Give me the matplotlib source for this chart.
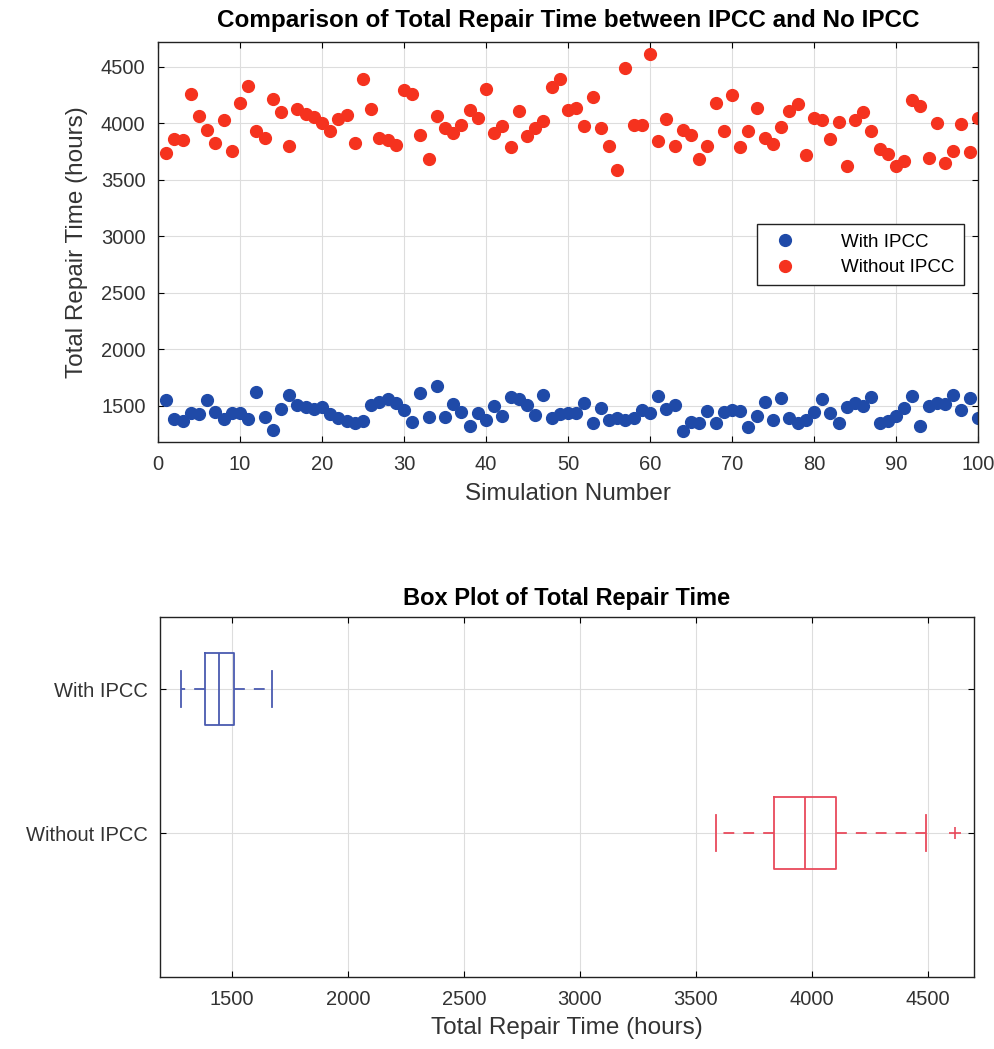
import numpy as np
import matplotlib
matplotlib.use("Agg")
import matplotlib.pyplot as plt

plt.rcParams['font.family'] = ['Liberation Sans', 'DejaVu Sans']

sim = np.arange(1, 101)
with_ipcc = [1553, 1382, 1370, 1435, 1429, 1553, 1450, 1382, 1441, 1435,
             1382, 1627, 1399, 1290, 1470, 1598, 1509, 1488, 1470, 1494,
             1429, 1390, 1370, 1346, 1370, 1509, 1538, 1559, 1524, 1464,
             1361, 1618, 1405, 1672, 1405, 1518, 1450, 1322, 1441, 1376,
             1500, 1411, 1583, 1559, 1509, 1420, 1592, 1390, 1429, 1435,
             1435, 1530, 1346, 1485, 1376, 1396, 1376, 1390, 1464, 1441,
             1589, 1470, 1509, 1282, 1361, 1352, 1459, 1346, 1450, 1464,
             1459, 1316, 1411, 1533, 1376, 1568, 1390, 1346, 1376, 1450,
             1559, 1441, 1346, 1494, 1524, 1500, 1577, 1352, 1370, 1411,
             1479, 1589, 1322, 1500, 1524, 1518, 1598, 1464, 1568, 1390]
without_ipcc = [3740, 3861, 3849, 4263, 4068, 3938, 3831, 4026, 3754, 4180,
                4328, 3932, 3867, 4216, 4097, 3796, 4127, 4080, 4056, 4003,
                3932, 4041, 4071, 3831, 4395, 4130, 3872, 3855, 3813, 4293,
                4263, 3899, 3686, 4062, 3961, 3914, 3982, 4115, 4047, 4308,
                3914, 3973, 3790, 4106, 3893, 3961, 4018, 4322, 4396, 4115,
                4140, 3973, 4234, 3958, 3804, 3588, 4494, 3982, 3988, 4618,
                3843, 4041, 3804, 3938, 3899, 3686, 3801, 4183, 3932, 4248,
                3790, 3932, 4139, 3869, 3816, 3967, 4109, 4169, 3724, 4050,
                4026, 3861, 4012, 3621, 4026, 4097, 3929, 3775, 3730, 3627,
                3665, 4210, 4154, 3692, 4003, 3647, 3760, 3997, 3751, 4050]
groups = ['With IPCC', 'Without IPCC']

fig = plt.figure(figsize=(9.95, 10.49), dpi=100)

# scatter of both series
ax1 = fig.add_axes([0.1588, 0.5786, 0.824, 0.3813])
ax1.plot(sim, with_ipcc, 'o', color='#1f4aa8', markersize=8.5, label=groups[0])
ax1.plot(sim, without_ipcc, 'o', color='#f5321e', markersize=8.5, label=groups[1])
ax1.set_xlim(0, 100)
ax1.set_ylim(1180, 4720)
ax1.set_xticks(np.arange(0, 101, 10))
ax1.set_yticks(np.arange(1500, 4501, 500))
ax1.set_title('Comparison of Total Repair Time between IPCC and No IPCC',
              fontsize=17.5, fontweight='bold', pad=11)
ax1.set_xlabel('Simulation Number', fontsize=17.5, color='#333333', labelpad=7)
ax1.set_ylabel('Total Repair Time (hours)', fontsize=17.5, color='#333333', labelpad=9)
leg = ax1.legend(loc='upper right', bbox_to_anchor=(0.983, 0.545), fontsize=13.5,
                 fancybox=False, edgecolor='#222222', framealpha=1,
                 handletextpad=2.0, borderpad=0.5, labelspacing=0.45,
                 borderaxespad=0)
leg.get_frame().set_linewidth(1.0)

# box plot
ax2 = fig.add_axes([0.1608, 0.0686, 0.818, 0.3432])
colors = ['#4a5bb0', '#e84a5c']
for pos, data, c in zip([1, 2], [with_ipcc, without_ipcc], colors):
    ax2.boxplot(data, positions=[pos], vert=False, widths=0.5, whis=1.5,
                capwidths=0.25, manage_ticks=False,
                boxprops=dict(color=c, linewidth=1.3),
                medianprops=dict(color=c, linewidth=1.3),
                whiskerprops=dict(color=c, linewidth=1.3, linestyle=(0, (6, 5))),
                capprops=dict(color=c, linewidth=1.3),
                flierprops=dict(marker='+', markeredgecolor=c, markersize=9,
                                markeredgewidth=1.2))
ax2.set_ylim(3.0, 0.5)
ax2.set_yticks([1, 2])
ax2.set_yticklabels(groups)
ax2.set_xlim(1190, 4700)
ax2.set_xticks(np.arange(1500, 4501, 500))
ax2.set_title('Box Plot of Total Repair Time', fontsize=17, fontweight='bold', pad=9)
ax2.set_xlabel('Total Repair Time (hours)', fontsize=17.5, color='#333333', labelpad=6)

for ax in (ax1, ax2):
    ax.grid(True, color='#dddddd', linewidth=0.8)
    ax.set_axisbelow(True)
    ax.tick_params(direction='in', top=True, right=True, labelsize=14.5,
                   labelcolor='#333333', length=4, pad=9)
    for s in ax.spines.values():
        s.set_color('#222222')
        s.set_linewidth(1.0)

plt.savefig('out.png', dpi=100)
